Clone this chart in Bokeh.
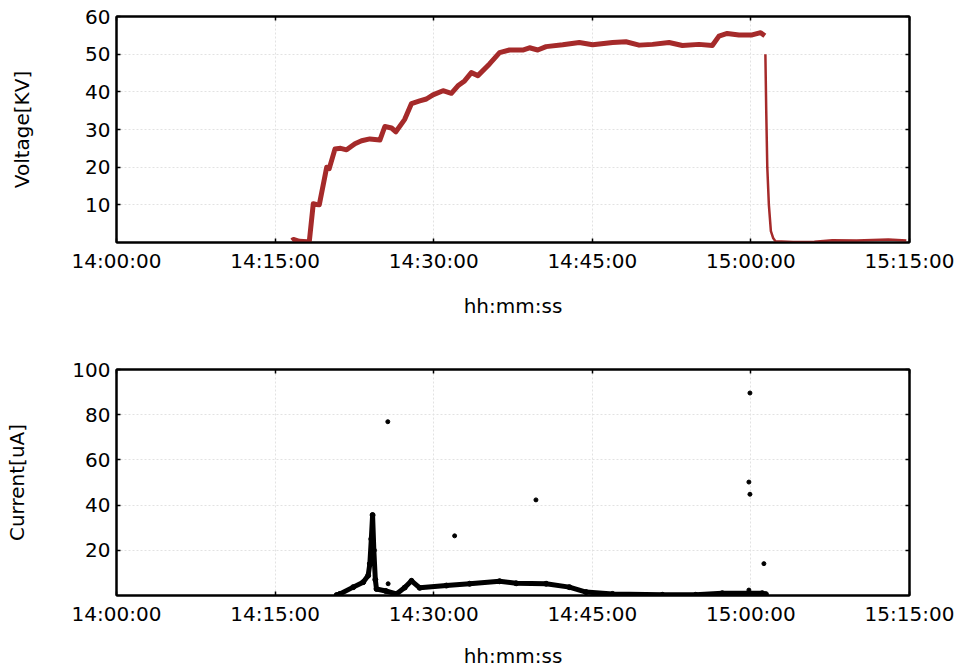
from bokeh.plotting import figure
from bokeh.layouts import column
from bokeh.models import Range1d, FixedTicker, LinearAxis
from bokeh.embed import file_html
from bokeh.resources import INLINE

# ---- data (minutes after 14:00:00) ----
x_ticks = [0, 15, 30, 45, 60, 75]
x_tick_labels = ["14:00:00", "14:15:00", "14:30:00", "14:45:00", "15:00:00", "15:15:00"]
volt_ticks = [10, 20, 30, 40, 50, 60]
curr_ticks = [20, 40, 60, 80, 100]

# voltage while ramping / holding (dense record -> thick trace)
volt_min = [16.60, 16.73, 17.30, 18.05, 18.24, 18.61, 18.90, 19.18, 19.88, 20.12, 20.66,
            21.20, 21.76, 22.55, 23.18, 23.96, 24.91, 25.38, 26.01, 26.42, 27.26,
            27.90, 28.68, 29.31, 29.93, 30.88, 31.67, 32.29, 32.92, 33.56, 34.18,
            35.28, 36.23, 37.17, 38.42, 39.06, 39.84, 40.63, 42.20, 43.77, 45.03,
            46.92, 48.18, 49.43, 50.69, 52.26, 53.52, 55.09, 56.35, 56.98, 57.76,
            58.87, 60.12, 60.92, 61.32]
volt_kv = [0.5, 0.8, 0.3, 0.2, 0.4, 10.3, 10.1, 10.0, 20.0, 19.6, 24.8,
           25.0, 24.6, 26.2, 27.0, 27.5, 27.2, 30.8, 30.4, 29.4, 32.7,
           36.9, 37.6, 38.1, 39.2, 40.3, 39.6, 41.6, 42.9, 45.1, 44.3,
           47.4, 50.4, 51.1, 51.1, 51.7, 51.1, 52.0, 52.5, 53.1, 52.5,
           53.1, 53.3, 52.4, 52.6, 53.1, 52.3, 52.6, 52.3, 54.8, 55.5,
           55.1, 55.1, 55.7, 54.9]
# voltage after switch-off (sparse record -> thin trace)
fall_min = [61.37, 61.45, 61.55, 61.70, 61.89, 62.10, 62.33, 64.00, 66.00, 67.70,
            70.00, 73.00, 74.70]
fall_kv = [50.0, 35.0, 20.0, 10.0, 3.0, 1.2, 0.3, 0.1, 0.2, 0.6, 0.5, 0.8, 0.5]

curr_min = [20.82, 21.13, 22.39, 23.33, 23.80, 23.96, 24.10, 24.22, 24.34, 24.48,
            24.59, 25.47, 26.48, 27.26, 27.90, 28.68, 31.20, 33.40, 36.23, 37.80,
            40.63, 42.83, 44.41, 46.92, 51.63, 54.78, 57.29, 61.07, 61.42]
curr_ua = [0.2, 0.7, 3.7, 5.9, 8.8, 14.0, 25.0, 35.6, 20.0, 7.0,
           2.9, 2.0, 0.7, 3.5, 6.5, 3.4, 4.4, 5.2, 6.3, 5.4,
           5.2, 3.7, 1.5, 0.7, 0.3, 0.3, 1.0, 1.0, 0.6]

spike_min = [25.66, 25.69, 31.98, 39.67, 59.91, 59.81, 59.91, 61.23, 59.81]
spike_ua = [76.9, 5.2, 26.4, 42.3, 89.6, 50.2, 44.8, 14.1, 2.4]

FONT = "DejaVu Sans"
W = 958
FRAME_W = 793
FRAME_H = 226
LEFT = 116
RIGHT = W - LEFT - FRAME_W


def mirror_axis(ticks):
    return LinearAxis(ticker=FixedTicker(ticks=ticks), major_label_text_font_size="1px",
                      major_label_text_color=None, major_label_standoff=0,
                      major_tick_in=4, major_tick_out=0, minor_tick_line_color=None,
                      axis_line_width=2, major_tick_line_width=1.5)


def style(p, yticks, ylabel, ylab_standoff, tick_standoff, xlab_standoff):
    p.xaxis.ticker = FixedTicker(ticks=x_ticks)
    p.xaxis.major_label_overrides = {t: l for t, l in zip(x_ticks, x_tick_labels)}
    p.yaxis.ticker = FixedTicker(ticks=yticks)
    for ax in p.xaxis + p.yaxis:
        ax.axis_line_color = "black"
        ax.axis_line_width = 2
        ax.major_tick_in = 4
        ax.major_tick_out = 0
        ax.major_tick_line_width = 1.5
        ax.minor_tick_line_color = None
        ax.major_label_text_font = FONT
        ax.major_label_text_font_size = "20px"
        ax.major_label_text_color = "black"
        ax.major_label_text_line_height = 1.0
        ax.axis_label_text_font = FONT
        ax.axis_label_text_font_size = "20px"
        ax.axis_label_text_font_style = "normal"
        ax.axis_label_text_color = "black"
        ax.axis_label_text_line_height = 1.0
    p.yaxis.major_label_standoff = 6
    p.xaxis.major_label_standoff = tick_standoff
    p.xaxis.axis_label = "hh:mm:ss"
    p.xaxis.axis_label_standoff = xlab_standoff
    p.yaxis.axis_label = ylabel
    p.yaxis.axis_label_standoff = ylab_standoff
    # mirrored axes (ticks only)
    p.add_layout(mirror_axis(x_ticks), "above")
    p.add_layout(mirror_axis(yticks), "right")
    p.xgrid.ticker = FixedTicker(ticks=x_ticks)
    p.ygrid.ticker = FixedTicker(ticks=yticks)
    for g in (p.xgrid, p.ygrid):
        g.grid_line_color = "#e2e2e2"
        g.grid_line_dash = "2 2"
        g.grid_line_width = 1
    p.outline_line_color = "black"
    p.outline_line_width = 2
    p.background_fill_color = "white"
    p.border_fill_color = "white"


H1 = 344
TOP1 = 16
p1 = figure(width=W, height=H1, output_backend="svg", toolbar_location=None,
            x_range=Range1d(0, 75), y_range=Range1d(0, 60),
            min_border_left=LEFT, min_border_right=RIGHT,
            min_border_top=TOP1, min_border_bottom=H1 - TOP1 - FRAME_H)
style(p1, volt_ticks, "Voltage[KV]", 48, 6, 18)
p1.line(volt_min, volt_kv, line_color="#a52a2a", line_width=5, line_join="round")
p1.line(fall_min, fall_kv, line_color="#a52a2a", line_width=2.5, line_join="round")

H2 = 671 - H1
TOP2 = 369 - H1
p2 = figure(width=W, height=H2, output_backend="svg", toolbar_location=None,
            x_range=Range1d(0, 75), y_range=Range1d(0, 100),
            min_border_left=LEFT, min_border_right=RIGHT,
            min_border_top=TOP2, min_border_bottom=H2 - TOP2 - FRAME_H)
style(p2, curr_ticks, "Current[uA]", 40, 6, 15)
p2.line(curr_min, curr_ua, line_color="black", line_width=5, line_join="round")
p2.scatter(curr_min, curr_ua, size=5, color="black")
p2.scatter(spike_min, spike_ua, size=4, color="black")

layout = column(p1, p2, spacing=0)
open("out.html", "w").write(file_html(layout, INLINE))
